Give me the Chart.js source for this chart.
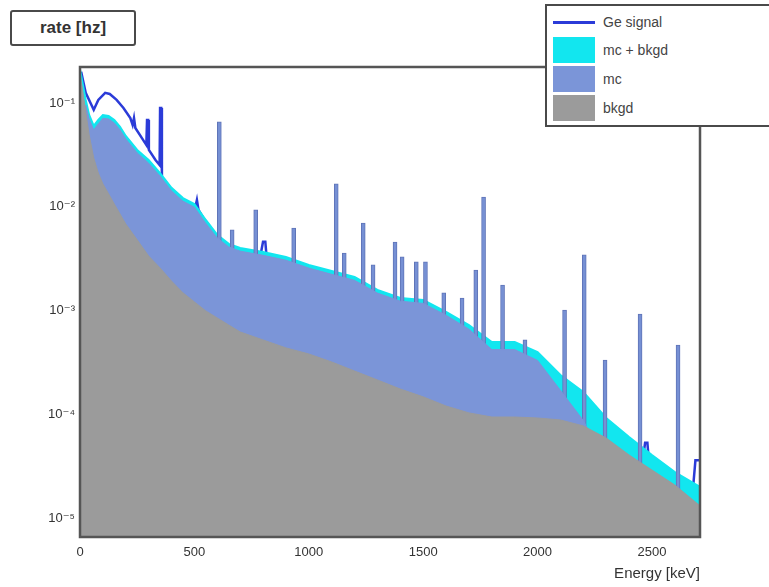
<!DOCTYPE html>
<html>
<head>
<meta charset="utf-8">
<script src="https://cdn.jsdelivr.net/npm/chart.js"></script>
<style>
  body { margin: 0; background: #fff; font-family: "Liberation Sans", Arial, sans-serif; }
  #wrap { position: relative; width: 769px; height: 587px; overflow: hidden; }
  canvas { position: absolute; left: 0; top: 0; }
  .title-box { position: absolute; left: 10px; top: 10px; width: 122px; height: 32px;
    border: 2px solid #4a4a4a; border-radius: 3px; background: #fff;
    font-weight: bold; font-size: 17px; line-height: 32px; text-align: center; color: #333; }
  .legend { position: absolute; left: 545px; top: 4px; width: 240px; height: 119px;
    border: 2px solid #4a4a4a; background: #fff; }
  .legend .row { position: absolute; left: 6px; height: 26px; line-height: 26px;
    font-size: 14px; color: #444; }
  .legend .sw { position: absolute; left: 0; top: 0; width: 42px; height: 26px; }
  .legend .ln { position: absolute; left: 0; top: 12px; width: 42px; height: 3px; background: #2b3bd8; }
  .legend .tx { position: absolute; left: 50px; white-space: nowrap; }
</style>
</head>
<body>
<div id="wrap">
  <canvas id="spectrum" width="769" height="587"></canvas>
  <div class="title-box">rate [hz]</div>
  <div class="legend">
    <div class="row" style="top:3px"><div class="ln"></div><span class="tx">Ge signal</span></div>
    <div class="row" style="top:31px"><div class="sw" style="background:#12e6ef"></div><span class="tx">mc + bkgd</span></div>
    <div class="row" style="top:60px"><div class="sw" style="background:#7b95d8"></div><span class="tx">mc</span></div>
    <div class="row" style="top:89px"><div class="sw" style="background:#9b9b9b"></div><span class="tx">bkgd</span></div>
  </div>
</div>
<script>
// energy grid of the continuum (keV)
const energy = [0, 10, 25, 40, 60, 80, 100, 125, 150, 175, 200, 250, 300, 350, 400, 450, 500, 550, 600, 650,
  700, 800, 900, 1000, 1100, 1200, 1300, 1400, 1500, 1600, 1700, 1800, 1900, 2000, 2100, 2200, 2300, 2400,
  2500, 2600, 2710];

const bkgd = [0.19, 0.14, 0.0818, 0.0492, 0.0295, 0.0211, 0.0166, 0.0133, 0.0106, 0.00851, 0.00682, 0.00479,
  0.00335, 0.00257, 0.00192, 0.00148, 0.00121, 0.000989, 0.000847, 0.000724, 0.000621, 0.00052, 0.000436,
  0.000381, 0.000319, 0.000261, 0.000214, 0.000175, 0.000147, 0.00012, 0.000103, 0.000094, 0.000094,
  0.000092, 0.0000881, 0.0000771, 0.000059, 0.0000405, 0.000029, 0.0000208, 0.0000131];

const mc = [0.02, 0.02, 0.095, 0.07, 0.055, 0.063, 0.071, 0.07, 0.064, 0.055, 0.045, 0.033, 0.0263,
  0.0197, 0.0142, 0.0113, 0.0099, 0.0069, 0.005, 0.0041, 0.00373, 0.0034, 0.00305, 0.00256, 0.00223,
  0.00195, 0.00147, 0.00123, 0.00117, 0.0009, 0.00066, 0.00042, 0.00042, 0.00033, 0.00017,
  0.0000869, 0.000033, 0.0000199, 0.0000115, 0.0000069, 0.0000068];

const mcBkgd = [0.21, 0.16, 0.107, 0.0766, 0.060, 0.0686, 0.0766, 0.075, 0.0686, 0.0587, 0.0481, 0.0352,
  0.0282, 0.0211, 0.0152, 0.0121, 0.0106, 0.00745, 0.00535, 0.00438, 0.0040, 0.00366, 0.00328, 0.00275,
  0.0024, 0.0021, 0.00158, 0.00132, 0.00126, 0.000968, 0.000724, 0.000497, 0.000497, 0.000398, 0.000239,
  0.000164, 0.000092, 0.0000604, 0.0000405, 0.0000277, 0.0000199];

// measured Ge spectrum (own energy points, narrow lines included)
const geEnergy = [5, 25, 60, 80, 110, 130, 160, 190, 220, 230, 236, 242, 270, 290, 293, 298, 301, 330, 348,
  350, 355, 358, 400, 450, 505, 511, 518, 550, 600, 650, 700, 790, 800, 810, 815, 900, 1000, 1100, 1200,
  1300, 1400, 1500, 1600, 1700, 1800, 1900, 2000, 2100, 2200, 2300, 2400, 2465, 2470, 2480, 2485, 2500,
  2600, 2680, 2690, 2710];
const geSignal = [0.2, 0.125, 0.0857, 0.107, 0.125, 0.122, 0.107, 0.0895, 0.0716, 0.0614, 0.0716, 0.0574,
  0.046, 0.0394, 0.0685, 0.0685, 0.0352, 0.0282, 0.0252, 0.0895, 0.0895, 0.0189, 0.0145, 0.0115, 0.0101,
  0.0116, 0.0093, 0.0071, 0.0051, 0.0042, 0.0038, 0.0035, 0.0046, 0.0046, 0.0034, 0.0031, 0.0026, 0.0023,
  0.002, 0.0015, 0.00125, 0.0012, 0.00092, 0.00069, 0.00047, 0.00047, 0.00038, 0.00023, 0.000156, 0.000088,
  0.000058, 0.000044, 0.000053, 0.000053, 0.000039, 0.0000385, 0.0000265, 0.00002, 0.000036, 0.000036];

// gamma lines in the mc
const peakEnergy = [609, 665, 768, 934, 1120, 1155, 1238, 1281, 1377, 1408, 1470, 1510, 1590, 1670, 1730,
  1764, 1847, 1945, 2118, 2204, 2295, 2448, 2614];
const peakRate = [0.0656, 0.00597, 0.00931, 0.00624, 0.0166, 0.00358, 0.00697, 0.00275, 0.00457, 0.00328,
  0.00294, 0.00294, 0.00148, 0.00132, 0.00245, 0.0124, 0.00176, 0.00052, 0.00101, 0.00343, 0.000333,
  0.000925, 0.000465];

const xTicks = [0, 500, 1000, 1500, 2000, 2500];
const yTicks = [1e-5, 1e-4, 1e-3, 1e-2, 1e-1];
const yTickLabels = ['10⁻⁵', '10⁻⁴', '10⁻³', '10⁻²', '10⁻¹'];

const pts = (xs, ys) => xs.map((x, i) => ({ x: x, y: ys[i] }));
const tickFont = { family: '"Liberation Sans", "DejaVu Sans", sans-serif', size: 13 };

const frame = {
  id: 'frame',
  afterDatasetsDraw(chart) {
    const { ctx, chartArea: a } = chart;
    ctx.save();
    ctx.strokeStyle = '#555';
    ctx.lineWidth = 2.5;
    ctx.strokeRect(a.left, a.top, a.right - a.left, a.bottom - a.top);
    ctx.restore();
  }
};

new Chart(document.getElementById('spectrum'), {
  type: 'line',
  data: {
    datasets: [
      { type: 'line', label: 'Ge signal', data: pts(geEnergy, geSignal), borderColor: '#2b3bd8',
        borderWidth: 2.5, pointRadius: 0, fill: false, order: 5 },
      { type: 'line', label: 'mc + bkgd', data: pts(energy, mcBkgd), borderColor: '#12e6ef',
        backgroundColor: '#12e6ef', borderWidth: 2, pointRadius: 0, fill: 'start', order: 4 },
      { type: 'bar', label: 'mc lines', data: pts(peakEnergy, peakRate), backgroundColor: '#7690d4',
        borderColor: '#5f74b8', borderWidth: 1, barThickness: 4, order: 3 },
      { type: 'line', label: 'mc', data: pts(energy, mc), borderColor: '#7b95d8',
        backgroundColor: '#7b95d8', borderWidth: 1, pointRadius: 0, fill: 'start', order: 2 },
      { type: 'line', label: 'bkgd', data: pts(energy, bkgd), borderColor: '#9b9b9b',
        backgroundColor: '#9b9b9b', borderWidth: 1, pointRadius: 0, fill: 'start', order: 1 }
    ]
  },
  options: {
    responsive: false,
    animation: false,
    devicePixelRatio: 1,
    layout: { padding: { top: 67, right: 69, bottom: 0, left: 0 } },
    plugins: { legend: { display: false }, tooltip: { enabled: false } },
    scales: {
      x: {
        type: 'linear', min: 0, max: 2710, offset: false,
        grid: { display: false, drawTicks: false }, border: { display: false },
        ticks: { padding: 8, font: tickFont, color: '#333', maxRotation: 0, autoSkip: false,
          callback: v => String(v) },
        afterBuildTicks: s => { s.ticks = xTicks.map(v => ({ value: v })); },
        afterFit: s => { s.height = 50; },
        title: { display: true, text: 'Energy [keV]', align: 'end', color: '#333',
          font: { family: '"Liberation Sans", sans-serif', size: 15 }, padding: { top: 0, bottom: 4 } }
      },
      y: {
        type: 'logarithmic', min: 6.56e-6, max: 0.222,
        grid: { display: false, drawTicks: false }, border: { display: false },
        ticks: { padding: 5, font: tickFont, color: '#333', autoSkip: false,
          callback: v => { const i = yTicks.indexOf(v); return i >= 0 ? yTickLabels[i] : ''; } },
        afterBuildTicks: s => { s.ticks = yTicks.map(v => ({ value: v })); },
        afterFit: s => { s.width = 80; }
      }
    }
  },
  plugins: [frame]
});
</script>
</body>
</html>
